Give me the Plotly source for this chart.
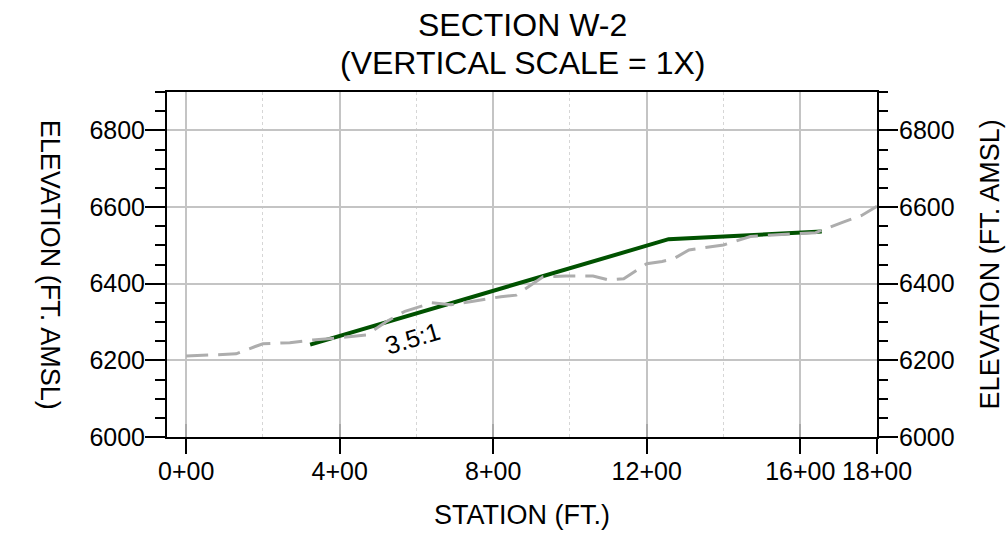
import plotly.graph_objects as go

# ---- data ----
ground_station = [0, 130, 180, 200, 270, 330, 400, 470, 520, 570, 640, 690, 740, 820, 860, 880,
                  930, 990, 1060, 1100, 1140, 1200, 1240, 1270, 1310, 1400, 1470, 1530, 1640,
                  1710, 1760, 1800]
ground_elev = [6211, 6217, 6236, 6243, 6246, 6253, 6259, 6266, 6300, 6328, 6350, 6345, 6353, 6366,
               6370, 6384, 6418, 6420, 6420, 6410, 6413, 6452, 6458, 6465, 6488, 6501, 6523, 6527,
               6533, 6560, 6578, 6602]
design_station = [323, 1257, 1656]
design_elev = [6241, 6516, 6536]

x_tickvals = [0, 400, 800, 1200, 1600, 1800]
x_ticktext = ["0+00", "4+00", "8+00", "12+00", "16+00", "18+00"]
x_minor_grid = [200, 600, 1000, 1400]
y_tickvals = [6000, 6200, 6400, 6600, 6800]

slope_label = "3.5:1"
slope_label_pos = (592, 6257)

title_lines = ["SECTION W-2", "(VERTICAL SCALE = 1X)"]
x_title = "STATION (FT.)"
y_title = "ELEVATION (FT. AMSL)"

FONT = "Liberation Sans, Arial, sans-serif"
XR = [-50, 1800]
YR = [6000, 6900]

fig = go.Figure()
fig.add_trace(go.Scatter(x=design_station, y=design_elev, mode="lines",
                         line=dict(color="#005200", width=4), showlegend=False, hoverinfo="skip"))
fig.add_trace(go.Scatter(x=ground_station, y=ground_elev, mode="lines", yaxis="y2",
                         line=dict(color="#adadad", width=3, dash="22px,10px"),
                         showlegend=False, hoverinfo="skip"))
fig.add_trace(go.Scatter(x=[None], y=[None], xaxis="x2", yaxis="y", mode="lines",
                         showlegend=False, hoverinfo="skip"))

tickfont = dict(family=FONT, size=25, color="black")

fig.update_layout(
    width=1007, height=541,
    margin=dict(l=167, r=130, t=92, b=104),
    paper_bgcolor="white", plot_bgcolor="white",
    font=dict(family=FONT, color="black"),
    xaxis=dict(range=XR, tickmode="array", tickvals=x_tickvals, ticktext=x_ticktext,
               ticks="outside", ticklen=15, tickwidth=2, tickcolor="black",
               showline=True, linecolor="black", linewidth=2, mirror=True,
               showgrid=True, gridcolor="#c4c4c4", gridwidth=1.5,
               minor=dict(tickmode="array", tickvals=x_minor_grid, showgrid=True,
                          gridcolor="#d6d6d6", griddash="dot", gridwidth=1, ticks=""),
               tickfont=tickfont, zeroline=False, ticklabelstandoff=-4),
    xaxis2=dict(range=XR, overlaying="x", anchor="y", side="bottom",
                tickmode="array", tickvals=x_tickvals[:-1], ticks="inside", ticklen=13,
                tickwidth=2, tickcolor="#a8a8a8", showticklabels=False, showline=False,
                showgrid=False, zeroline=False),
    yaxis=dict(range=YR, tickmode="array", tickvals=y_tickvals,
               ticks="outside", ticklen=20, tickwidth=2, tickcolor="black",
               showline=True, linecolor="black", linewidth=2, mirror=True,
               showgrid=True, gridcolor="#c4c4c4", gridwidth=1.5,
               minor=dict(dtick=50, tick0=6000, ticks="outside", ticklen=10, tickwidth=2,
                          tickcolor="black", showgrid=False),
               tickfont=tickfont, zeroline=False, ticklabelstandoff=-5),
    yaxis2=dict(range=YR, overlaying="y", side="right", anchor="x", tickmode="array",
                tickvals=y_tickvals, ticks="outside", ticklen=20, tickwidth=2, tickcolor="black",
                minor=dict(dtick=50, tick0=6000, ticks="outside", ticklen=10, tickwidth=2,
                           tickcolor="black", showgrid=False),
                showgrid=False, showline=False, zeroline=False, tickfont=tickfont,
                ticklabelstandoff=-4),
    annotations=[
        dict(text=title_lines[0], xref="paper", yref="paper", x=0.5, y=1.1933,
             xanchor="center", yanchor="middle", showarrow=False,
             font=dict(family=FONT, size=32, color="black")),
        dict(text=title_lines[1], xref="paper", yref="paper", x=0.5, y=1.084,
             xanchor="center", yanchor="middle", showarrow=False,
             font=dict(family=FONT, size=32, color="black")),
        dict(text=x_title, xref="paper", yref="paper", x=0.5, y=-0.226,
             xanchor="center", yanchor="middle", showarrow=False,
             font=dict(family=FONT, size=27, color="black")),
        dict(text=y_title, xref="paper", yref="paper", x=-0.1636, y=0.5, textangle=90,
             xanchor="center", yanchor="middle", showarrow=False,
             font=dict(family=FONT, size=27, color="black")),
        dict(text=y_title, xref="paper", yref="paper", x=1.159, y=0.5, textangle=-90,
             xanchor="center", yanchor="middle", showarrow=False,
             font=dict(family=FONT, size=27, color="black")),
        dict(text=slope_label, x=slope_label_pos[0], y=slope_label_pos[1], xref="x", yref="y",
             textangle=-16.5, showarrow=False, xanchor="center", yanchor="middle",
             font=dict(family=FONT, size=25, color="black")),
    ],
)

fig.write_html("out.html", config={"displayModeBar": False},
               post_script="document.body.style.margin='0';document.body.style.overflow='hidden';")
